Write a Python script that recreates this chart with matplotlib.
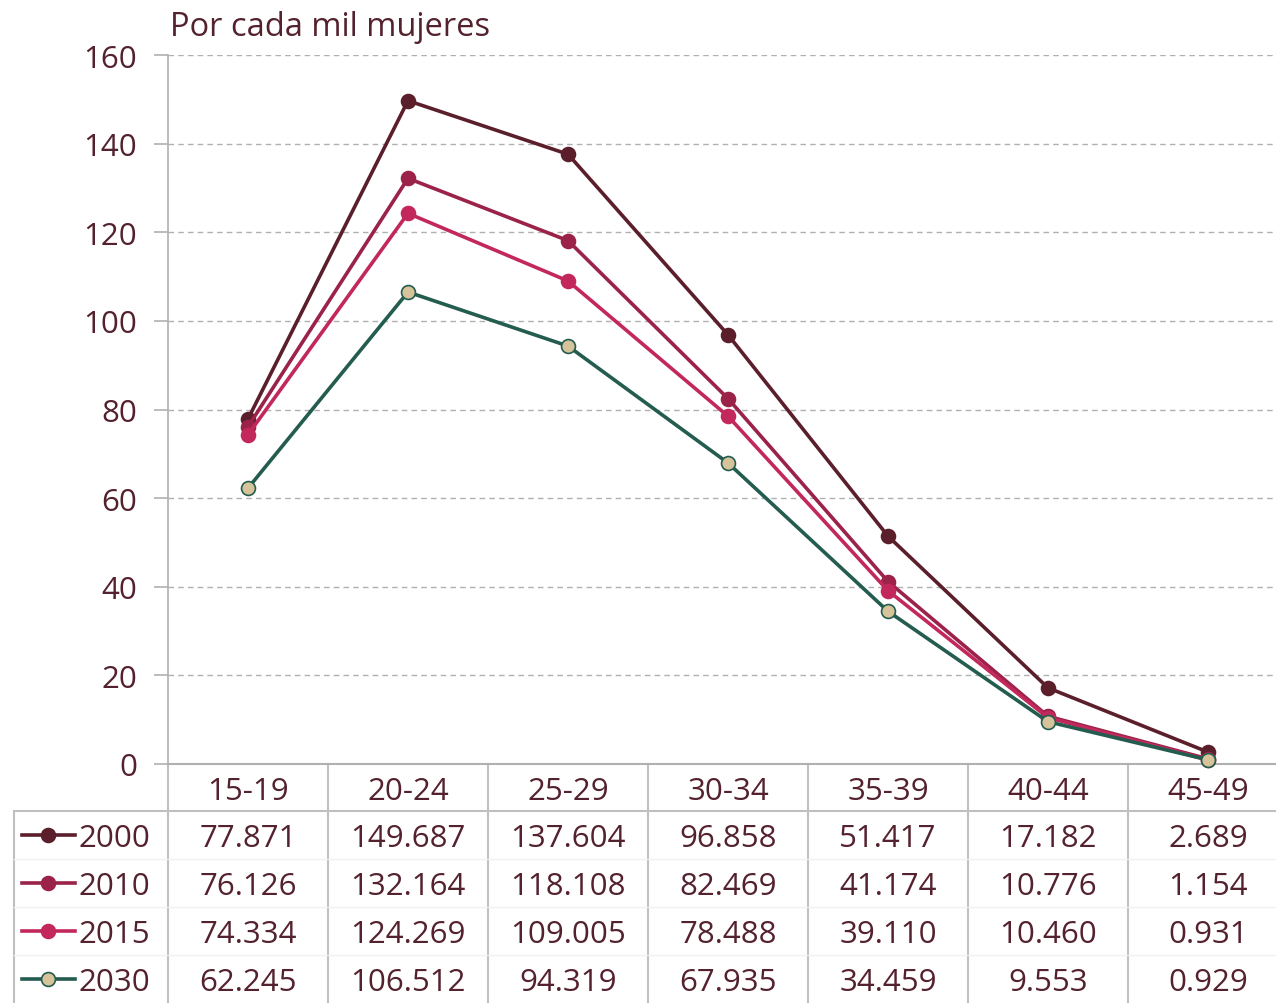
import matplotlib
matplotlib.use("Agg")
import matplotlib.pyplot as plt
from matplotlib.lines import Line2D
import matplotlib.transforms as mtransforms

plt.rcParams['font.family'] = ['Open Sans', 'DejaVu Sans']

categories = ["15-19", "20-24", "25-29", "30-34", "35-39", "40-44", "45-49"]
series_names = ["2000", "2010", "2015", "2030"]
v2000 = [77.871, 149.687, 137.604, 96.858, 51.417, 17.182, 2.689]
v2010 = [76.126, 132.164, 118.108, 82.469, 41.174, 10.776, 1.154]
v2015 = [74.334, 124.269, 109.005, 78.488, 39.110, 10.460, 0.931]
v2030 = [62.245, 106.512, 94.319, 67.935, 34.459, 9.553, 0.929]
y_ticks = [0, 20, 40, 60, 80, 100, 120, 140, 160]
y_title = "Por cada mil mujeres"

series = [v2000, v2010, v2015, v2030]
line_colors = ["#5b1f2c", "#9b2248", "#c2285c", "#245c4f"]
face_colors = ["#5b1f2c", "#9b2248", "#c2285c", "#d6c39a"]
text_color = "#54222e"
grid_color = "#b0b0b0"
FS = 22.5

W, H = 1276, 1004
fig = plt.figure(figsize=(W / 100, H / 100), dpi=100)
ax_left, ax_right, ax_top, ax_bottom = 168, 1288, 56, 765
ax = fig.add_axes([ax_left / W, 1 - ax_bottom / H, (ax_right - ax_left) / W, (ax_bottom - ax_top) / H])

x = list(range(len(categories)))
for vals, lc, fc in zip(series, line_colors, face_colors):
    ax.plot(x, vals, color=lc, lw=2.6, marker='o', ms=10, mfc=fc, mec=lc, mew=1.2,
            zorder=3, clip_on=False)

ax.set_xlim(-0.5, len(categories) - 0.5)
ax.set_ylim(0, 160)
ax.set_yticks(y_ticks)
ax.set_yticklabels([str(t) for t in y_ticks], fontsize=FS, color=text_color)
ax.tick_params(axis='y', length=10, width=1.2, color=grid_color, pad=12)
ax.set_xticks([])
ax.yaxis.grid(True, color=grid_color, ls=(0, (4, 3)), lw=1)
ax.set_axisbelow(True)
for s in ['top', 'right']:
    ax.spines[s].set_visible(False)
ax.spines['left'].set_color(grid_color)
ax.spines['left'].set_linewidth(1.2)
ax.spines['bottom'].set_color(grid_color)
ax.spines['bottom'].set_linewidth(1.5)

fig.text(170 / W, 1 - 28 / H, y_title, fontsize=23.5,
         color=text_color, ha='left', va='center')

# table: x in data coords, y in figure coords
trans = mtransforms.blended_transform_factory(ax.transData, fig.transFigure)
fy = lambda py: 1 - py / H
fx = lambda px: px / W

header_y = 792
row_ys = [839, 887, 935, 983]
mark_ys = [836, 884, 932, 980]

for i, c in enumerate(categories):
    ax.text(i, fy(header_y), c, transform=trans, ha='center', va='center',
            fontsize=FS, color=text_color, clip_on=False)

for i in range(len(categories)):
    xb = i - 0.5
    ax.add_line(Line2D([xb, xb], [fy(765), fy(1004)], transform=trans, color="#c0c0c0",
                       lw=1.5, clip_on=False))
fig.add_artist(Line2D([fx(14), fx(1276)], [fy(812), fy(812)], color="#c0c0c0", lw=1.5))
fig.add_artist(Line2D([fx(14), fx(14)], [fy(812), fy(1004)], color="#c0c0c0", lw=1.5))
for yb in [860, 908, 956]:
    fig.add_artist(Line2D([fx(14), fx(1276)], [fy(yb), fy(yb)], color="#f1f1f1", lw=1))

for name, vals, lc, fc, ry, my in zip(series_names, series, line_colors, face_colors, row_ys, mark_ys):
    fig.add_artist(Line2D([fx(22), fx(75)], [fy(my), fy(my)], color=lc, lw=2.6))
    fig.add_artist(Line2D([fx(48.5)], [fy(my)], color=lc, marker='o', ms=10, mfc=fc, mec=lc, mew=1.2, lw=0))
    fig.text(fx(79), fy(ry), name, ha='left', va='center', fontsize=FS, color=text_color)
    for i, v in enumerate(vals):
        ax.text(i, fy(ry), f"{v:.3f}", transform=trans, ha='center', va='center',
                fontsize=FS, color=text_color, clip_on=False)

fig.savefig("out.png", dpi=100)
